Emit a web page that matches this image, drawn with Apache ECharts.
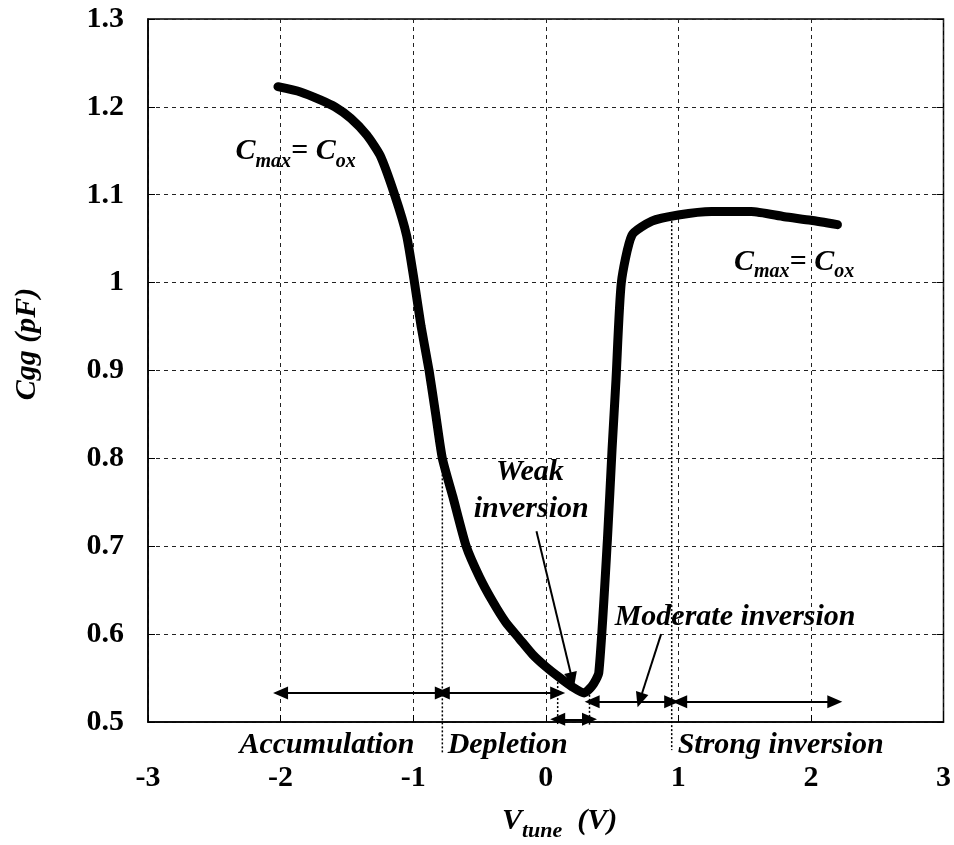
<!DOCTYPE html>
<html lang="en">
<head>
<meta charset="UTF-8">
<title>Cgg vs Vtune</title>
<script src="https://cdn.jsdelivr.net/npm/echarts@6/dist/echarts.min.js"></script>
<style>
    body { margin: 0; background: #fff; }
    #chart { width: 954px; height: 845px; }
</style>
</head>
<body>
<div id="chart"></div>
<script>
    // C-V curve
    const vtune = [-2.02, -1.85, -1.70, -1.59, -1.47, -1.35, -1.25, -1.14, -1.05, -0.99, -0.94, -0.88,
        -0.83, -0.78, -0.70, -0.60, -0.50, -0.40, -0.30, -0.20, -0.10, 0.00, 0.10, 0.20, 0.29,
        0.35, 0.40, 0.465, 0.50, 0.53, 0.57, 0.65, 0.80, 1.00, 1.25, 1.55, 1.80, 2.00, 2.20];
    const cgg = [1.223, 1.217, 1.208, 1.200, 1.187, 1.168, 1.145, 1.100, 1.054, 1.000, 0.950, 0.900,
        0.850, 0.800, 0.756, 0.700, 0.665, 0.637, 0.613, 0.595, 0.577, 0.563, 0.551, 0.540, 0.533,
        0.541, 0.556, 0.707, 0.810, 0.890, 1.000, 1.054, 1.070, 1.077, 1.081, 1.081, 1.075, 1.071, 1.066];

    // region arrows (both ends)
    const regionFrom = [[-2.00, 0.533], [-0.78, 0.533], [0.09, 0.503], [0.35, 0.523], [1.01, 0.523]];
    const regionTo = [[-0.78, 0.533], [0.09, 0.533], [0.33, 0.503], [0.95, 0.523], [2.18, 0.523]];

    // pointer arrows (head at end)
    const weakPointer = [[-0.07, 0.717], [0.20, 0.548]];
    const moderatePointer = [[0.87, 0.600], [0.71, 0.525]];

    // dotted region boundaries
    const boundaryX = [-0.78, 0.09, 0.33, 0.95];
    const boundaryTop = [0.80, 0.55, 0.54, 1.07];
    const boundaryBottom = [0.465, 0.497, 0.497, 0.468];

    // text labels [text, x, y, align]
    const labels = [
        ['Weak', -0.12, 0.784, 'center'],
        ['inversion', -0.11, 0.742, 'center'],
        ['Moderate inversion', 0.52, 0.619, 'left'],
        ['Accumulation', -2.31, 0.474, 'left'],
        ['Depletion', -0.74, 0.474, 'left'],
        ['Strong inversion', 0.995, 0.474, 'left']
    ];
    const cmaxPos = [[-2.34, 1.155], [1.42, 1.029]];

    const FONT = '"Liberation Serif", "Times New Roman", serif';

    const chart = echarts.init(document.getElementById('chart'));

    const dashed = { color: '#222', width: 1, type: [4, 4] };
    const arrowData = regionFrom.map((p, i) => [
        { coord: p, symbol: 'triangle' },
        { coord: regionTo[i], symbol: 'triangle' }
    ]);
    arrowData.push([
        { coord: weakPointer[0], symbol: 'none' },
        { coord: weakPointer[1], symbol: 'triangle' }
    ]);
    arrowData.push([
        { coord: moderatePointer[0], symbol: 'none', lineStyle: { curveness: -0.3 } },
        { coord: moderatePointer[1], symbol: 'triangle', lineStyle: { curveness: -0.3 } }
    ]);

    chart.setOption({
        animation: false,
        grid: {
            left: 148, right: 9, top: 19, bottom: 123,
            show: true, borderColor: '#000', borderWidth: 1.5
        },
        xAxis: {
            type: 'value', min: -3, max: 3, interval: 1,
            axisLine: { onZero: false, lineStyle: { color: '#000', width: 1.5 } },
            axisTick: { inside: true, length: 7, lineStyle: { color: '#000' } },
            axisLabel: { color: '#000', fontFamily: FONT, fontWeight: 'bold', fontSize: 30, margin: 41 },
            splitLine: { show: true, lineStyle: dashed }
        },
        yAxis: [{
            type: 'value', min: 0.5, max: 1.3, interval: 0.1,
            axisLine: { show: true, onZero: false, lineStyle: { color: '#000', width: 1.5 } },
            axisTick: { show: true, inside: true, length: 7, lineStyle: { color: '#000' } },
            axisLabel: { color: '#000', fontFamily: FONT, fontWeight: 'bold', fontSize: 30, margin: 24 },
            splitLine: { show: true, lineStyle: dashed }
        }, {
            type: 'value', min: 0.5, max: 1.3, interval: 0.1, position: 'right',
            axisLine: { show: false, onZero: false },
            axisTick: { show: true, inside: true, length: 7, lineStyle: { color: '#000' } },
            axisLabel: { show: false },
            splitLine: { show: false }
        }],
        series: [{
            type: 'line',
            data: vtune.map((v, i) => [v, cgg[i]]),
            symbol: 'none',
            smooth: 0.2,
            lineStyle: { color: '#000', width: 9, cap: 'round', join: 'round' },
            markLine: {
                silent: true,
                symbolSize: [13, 15],
                label: { show: false },
                lineStyle: { color: '#000', width: 2, type: 'solid' },
                data: arrowData
            }
        }]
    });

    const px = p => chart.convertToPixel({ xAxisIndex: 0, yAxisIndex: 0 }, p);
    const italicBold = { fontFamily: FONT, fontSize: 30, fontWeight: 'bold', fontStyle: 'italic', fill: '#000' };
    const graphics = [];

    boundaryX.forEach((x, i) => {
        const a = px([x, boundaryTop[i]]);
        const b = px([x, boundaryBottom[i]]);
        graphics.push({
            type: 'line', silent: true,
            shape: { x1: a[0], y1: a[1], x2: b[0], y2: b[1] },
            style: { stroke: '#000', lineWidth: 1.5, lineDash: [2, 2] }
        });
    });

    labels.forEach(l => {
        const p = px([l[1], l[2]]);
        graphics.push({
            type: 'text', silent: true, x: p[0], y: p[1],
            style: Object.assign({ text: l[0], align: l[3], verticalAlign: 'middle' }, italicBold)
        });
    });

    const subRich = {
        c: { fontFamily: FONT, fontSize: 30, fontWeight: 'bold', fontStyle: 'italic', lineHeight: 40 },
        s: { fontFamily: FONT, fontSize: 20, fontWeight: 'bold', fontStyle: 'italic', lineHeight: 20, verticalAlign: 'bottom' }
    };
    cmaxPos.forEach(c => {
        const p = px(c);
        graphics.push({
            type: 'text', silent: true, x: p[0], y: p[1] + 5,
            style: { text: '{c|C}{s|max}{c|= C}{s|ox}', rich: subRich, align: 'left', verticalAlign: 'middle', fill: '#000' }
        });
    });

    // axis names
    graphics.push({
        type: 'text', silent: true, x: 502, y: 821,
        style: {
            text: '{c|V}{t|tune}{c|  (V)}',
            rich: {
                c: { fontFamily: FONT, fontSize: 30, fontWeight: 'bold', fontStyle: 'italic', lineHeight: 42 },
                t: { fontFamily: FONT, fontSize: 22, fontWeight: 'bold', fontStyle: 'italic', lineHeight: 22, verticalAlign: 'bottom' }
            },
            align: 'left', verticalAlign: 'middle', fill: '#000'
        }
    });
    graphics.push({
        type: 'text', silent: true, x: 27, y: 344, rotation: Math.PI / 2,
        style: Object.assign({ text: 'Cgg (pF)', align: 'center', verticalAlign: 'middle' }, italicBold)
    });

    chart.setOption({ graphic: graphics });
</script>
</body>
</html>
